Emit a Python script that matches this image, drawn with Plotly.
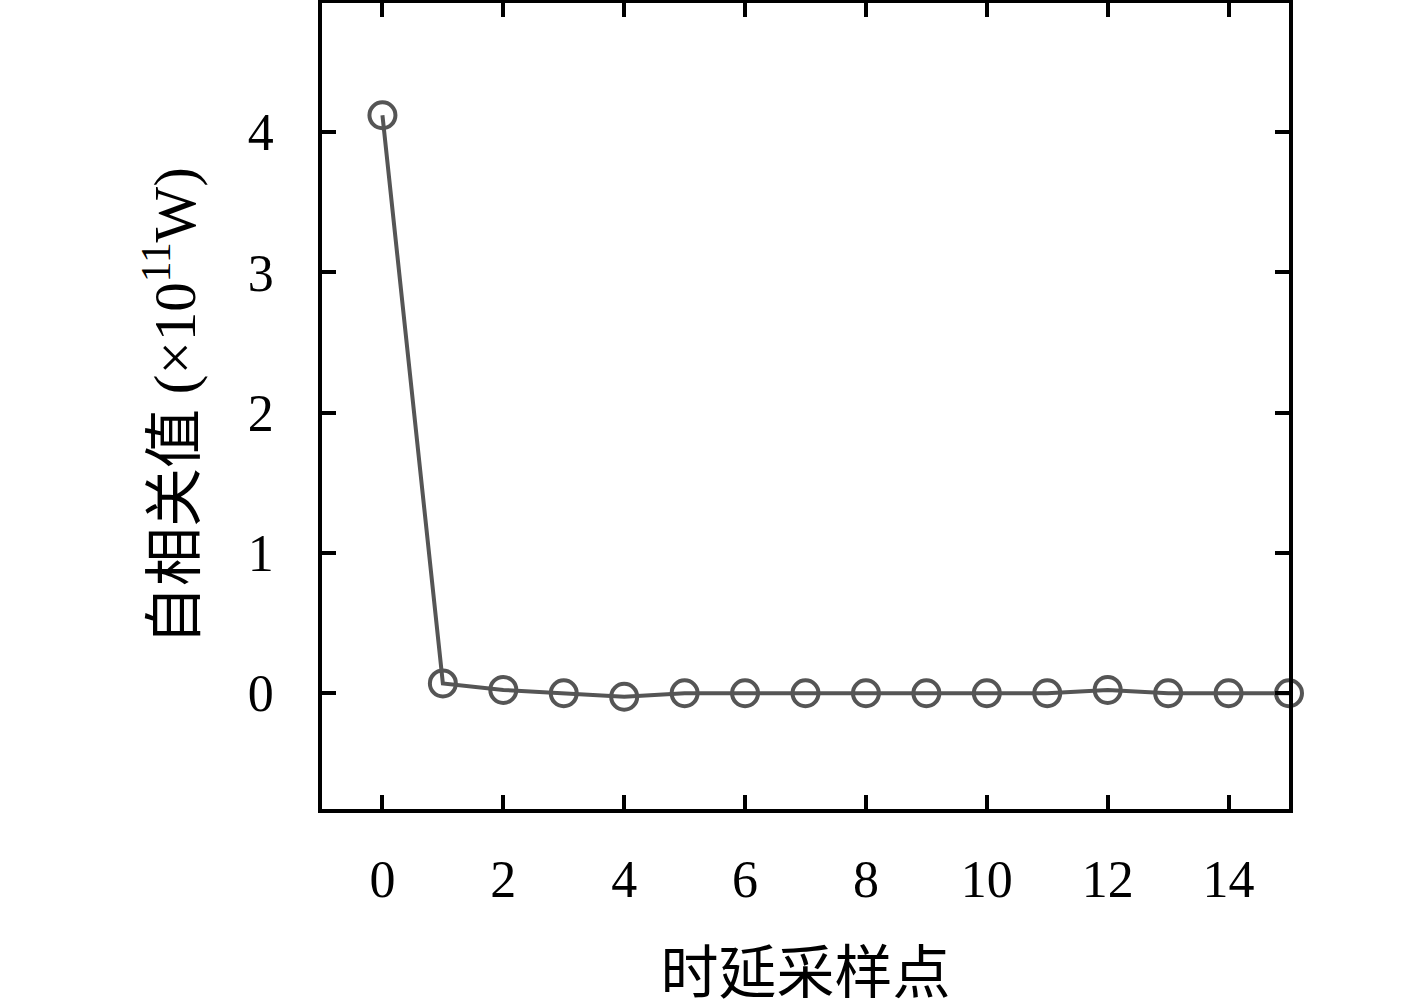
import plotly.graph_objects as go

lags = list(range(16))
values = [4.12, 0.07, 0.024, 0.0, -0.025, 0.0, 0.0, 0.0, 0.0, 0.0, 0.0, 0.0, 0.024, 0.0, 0.0, 0.0]
xticks = [0, 2, 4, 6, 8, 10, 12, 14]
yticks = [0, 1, 2, 3, 4]

FONT = "Liberation Serif, Noto Sans CJK SC, serif"
GRAY = "#555555"

fig = go.Figure()
fig.add_trace(go.Scatter(
    x=lags, y=values, mode="lines+markers",
    line=dict(color=GRAY, width=4),
    marker=dict(symbol="circle-open", size=26, color=GRAY, line=dict(width=4, color=GRAY)),
    cliponaxis=False, showlegend=False,
))

axis_common = dict(
    showline=True, linecolor="black", linewidth=3.5, mirror="ticks",
    ticks="inside", ticklen=14, tickwidth=3.5, tickcolor="black",
    showgrid=False, zeroline=False, automargin=False,
    tickfont=dict(family=FONT, size=52, color="black"),
)

fig.update_xaxes(range=[-1, 15], tickvals=xticks, ticktext=[str(v) for v in xticks],
                 ticklabelstandoff=22,
                 title=dict(text="时延采样点", font=dict(family=FONT, size=58, color="black"), standoff=46),
                 **axis_common)
fig.update_yaxes(range=[-0.825, 4.92], tickvals=yticks, ticktext=[str(v) for v in yticks],
                 ticklabelstandoff=34,
                 title=dict(text="自相关值 (×10<sup>11</sup>W)", font=dict(family=FONT, size=59, color="black"), standoff=34),
                 **axis_common)

fig.update_layout(
    width=1417, height=1006,
    margin=dict(l=322, r=128, t=3, b=197, autoexpand=False),
    plot_bgcolor="white", paper_bgcolor="white",
)

fig.write_html("out.html", config={"displayModeBar": False},
               post_script="document.body.style.margin='0';document.body.style.overflow='hidden';")
